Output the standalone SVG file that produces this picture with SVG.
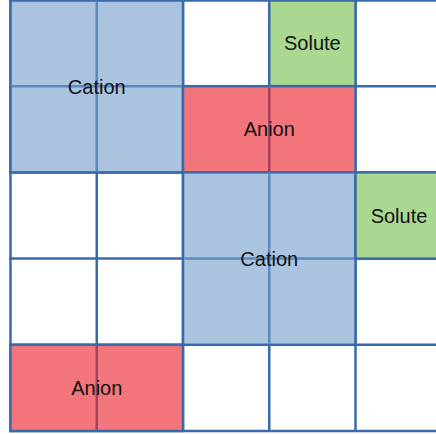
<svg xmlns="http://www.w3.org/2000/svg" width="436" height="434" viewBox="0 0 436 434">
<style>
.grid line{stroke:#3b6aa8;stroke-width:2.5}
.cation{fill:#aac4e0}
.anion{fill:#f4767d}
.solute{fill:#aad891}
.box{stroke:#3b6aa8;stroke-width:2.5}
.ci{stroke:#5b8ac3;stroke-width:2.5}
.ai{stroke:#a5405f;stroke-width:2.5}
text{font-family:"Liberation Sans",Arial,sans-serif;font-size:20px;fill:#111;text-anchor:middle;dominant-baseline:central}
</style>
<rect x="0" y="0" width="436" height="434" fill="#fff"/>
<g class="grid" id="grid">
<line x1="10.5" y1="0" x2="10.5" y2="432"/>
<line x1="96.75" y1="0" x2="96.75" y2="432"/>
<line x1="183" y1="0" x2="183" y2="432"/>
<line x1="269.25" y1="0" x2="269.25" y2="432"/>
<line x1="355.5" y1="0" x2="355.5" y2="432"/>
<line x1="9" y1="0.5" x2="436" y2="0.5"/>
<line x1="9" y1="86.2" x2="436" y2="86.2"/>
<line x1="9" y1="172.4" x2="436" y2="172.4"/>
<line x1="9" y1="258.6" x2="436" y2="258.6"/>
<line x1="9" y1="344.8" x2="436" y2="344.8"/>
<line x1="9" y1="431" x2="436" y2="431"/>
</g>
<g id="cation1">
<rect class="cation box" x="10.5" y="0.5" width="172.5" height="171.9"/>
<line class="ci" x1="96.75" y1="1.75" x2="96.75" y2="171.1"/>
<line class="ci" x1="11.75" y1="86.2" x2="181.75" y2="86.2"/>
</g>
<g id="solute1">
<rect class="solute box" x="269.25" y="0.5" width="86.25" height="85.7"/>
</g>
<g id="anion1">
<rect class="anion box" x="183" y="86.2" width="172.5" height="86.2"/>
<line class="ai" x1="269.25" y1="87.45" x2="269.25" y2="171.15"/>
</g>
<g id="cation2">
<rect class="cation box" x="183" y="172.4" width="172.5" height="172.4"/>
<line class="ci" x1="269.25" y1="173.65" x2="269.25" y2="343.55"/>
<line class="ci" x1="184.25" y1="258.6" x2="354.25" y2="258.6"/>
</g>
<g id="solute2">
<rect class="solute box" x="355.5" y="172.4" width="86.25" height="86.2"/>
</g>
<g id="anion2">
<rect class="anion box" x="10.5" y="344.8" width="172.5" height="86.2"/>
<line class="ai" x1="96.75" y1="346.05" x2="96.75" y2="429.75"/>
</g>
<g id="labels">
<text x="96.75" y="87">Cation</text>
<text x="312.4" y="43">Solute</text>
<text x="269.25" y="129.3">Anion</text>
<text x="269.25" y="259.2">Cation</text>
<text x="399" y="215.6">Solute</text>
<text x="96.75" y="388">Anion</text>
</g>
</svg>
